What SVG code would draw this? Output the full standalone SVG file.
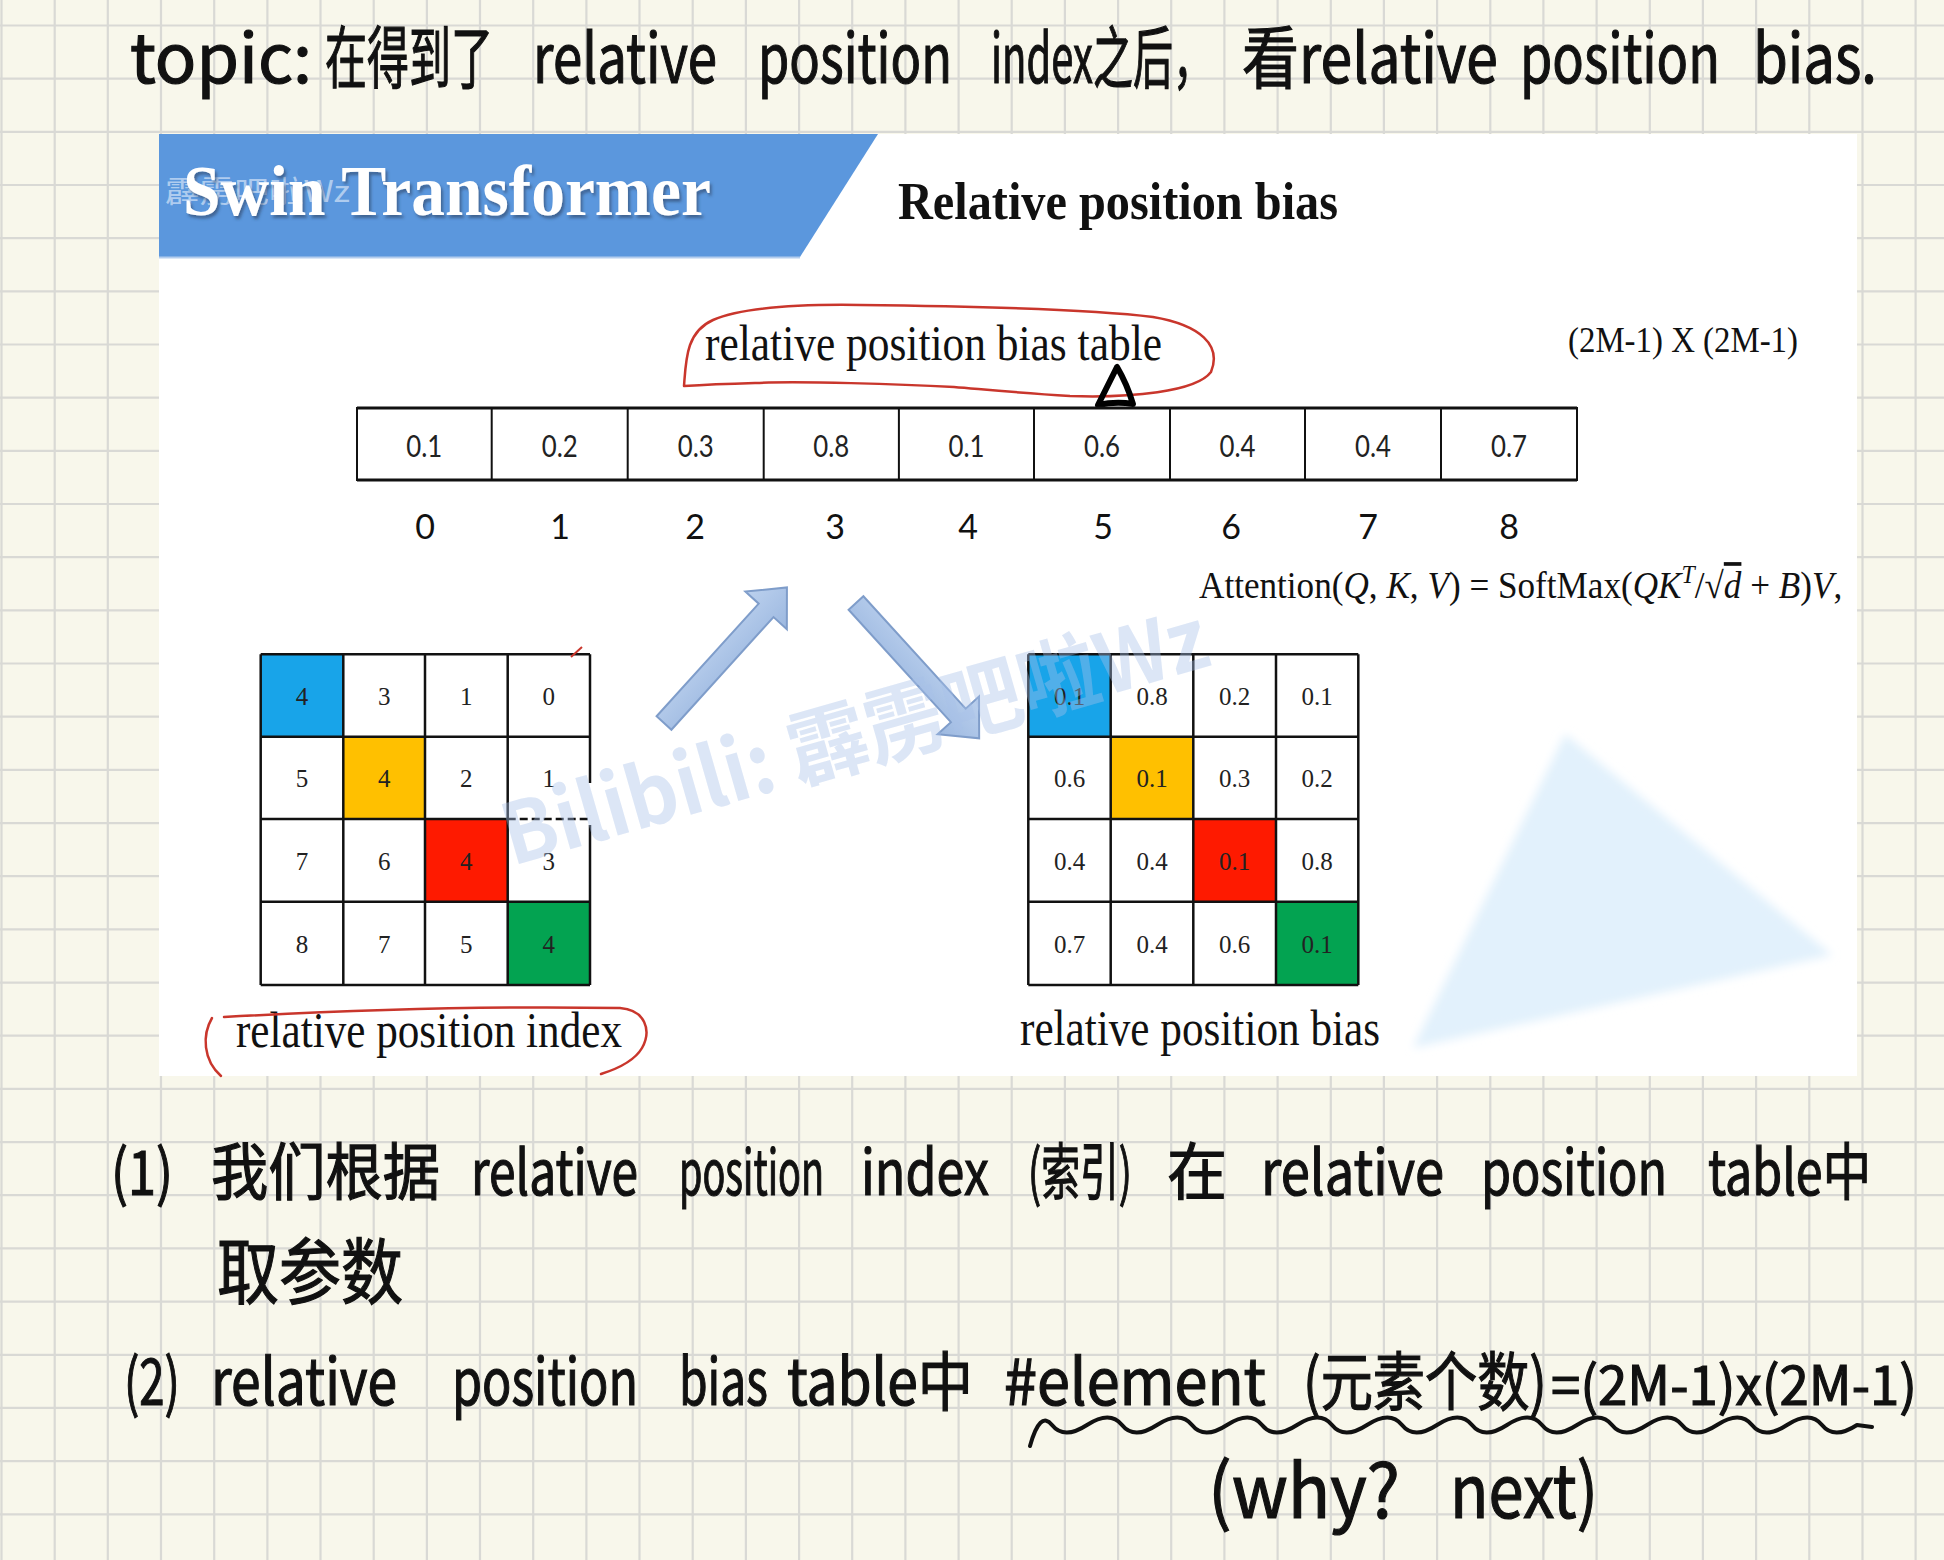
<svg xmlns="http://www.w3.org/2000/svg" width="1944" height="1560" viewBox="0 0 1944 1560">
<style>
.hw{font-family:"Noto Sans CJK SC","Noto Sans",sans-serif;fill:#111;stroke:#111;stroke-width:1.2}
.serif{font-family:"Liberation Serif","Times New Roman",serif;fill:#111}
.cellt{font-family:Lato,"Liberation Sans",sans-serif;font-size:30px;fill:#222;text-anchor:middle}
.idx{font-family:Lato,"Liberation Sans",sans-serif;font-size:34px;fill:#111;text-anchor:middle}
.gnum{font-family:"Liberation Serif","Times New Roman",serif;font-size:25px;fill:#222;text-anchor:middle}
.gl{stroke:#111;stroke-width:2.5;fill:none}
.red{stroke:#c9362c;stroke-width:2.5;fill:none;stroke-linecap:round}
.arr{fill:url(#ag);stroke:#7f9dca;stroke-width:2}
.it{font-style:italic}
</style>
<defs>
<linearGradient id="ag" x1="0" y1="0" x2="0" y2="1"><stop offset="0" stop-color="#bcd1ee"/><stop offset="1" stop-color="#9cb8e0"/></linearGradient>
<filter id="sh" x="-5%" y="-20%" width="110%" height="140%"><feDropShadow dx="2" dy="3" stdDeviation="1.5" flood-color="#2a3f60" flood-opacity="0.6"/></filter>
<filter id="bl" x="-10%" y="-10%" width="120%" height="120%"><feGaussianBlur stdDeviation="5"/></filter>
</defs>
<g id="paper">
<rect x="0" y="0" width="1944" height="1560" fill="#f8f7eb"/>
<path stroke="#d9d9d5" stroke-width="2.2" fill="none" d="M1.5,0V1560M54.7,0V1560M107.8,0V1560M161,0V1560M214.2,0V1560M267.4,0V1560M320.5,0V1560M373.7,0V1560M426.9,0V1560M480,0V1560M533.2,0V1560M586.4,0V1560M639.5,0V1560M692.7,0V1560M745.9,0V1560M799.1,0V1560M852.2,0V1560M905.4,0V1560M958.6,0V1560M1011.7,0V1560M1064.9,0V1560M1118.1,0V1560M1171.2,0V1560M1224.4,0V1560M1277.6,0V1560M1330.8,0V1560M1383.9,0V1560M1437.1,0V1560M1490.3,0V1560M1543.4,0V1560M1596.6,0V1560M1649.8,0V1560M1702.9,0V1560M1756.1,0V1560M1809.3,0V1560M1862.5,0V1560M1915.6,0V1560M0,25.5H1944M0,78.7H1944M0,131.8H1944M0,185H1944M0,238.2H1944M0,291.4H1944M0,344.5H1944M0,397.7H1944M0,450.9H1944M0,504H1944M0,557.2H1944M0,610.4H1944M0,663.5H1944M0,716.7H1944M0,769.9H1944M0,823.1H1944M0,876.2H1944M0,929.4H1944M0,982.6H1944M0,1035.7H1944M0,1088.9H1944M0,1142.1H1944M0,1195.2H1944M0,1248.4H1944M0,1301.6H1944M0,1354.8H1944M0,1407.9H1944M0,1461.1H1944M0,1514.3H1944"/>
</g>
<g id="slide">
<rect x="159" y="134" width="1698" height="942" fill="#ffffff"/>
<polygon points="1565,734 1832,955 1413,1048" fill="#e2f1fc" filter="url(#bl)"/>
<polygon points="159,134 878,134 800,257 159,257" fill="#5b97dd"/>
<line x1="159" y1="257.5" x2="800" y2="257.5" stroke="#b3cdee" stroke-width="2"/>
<text x="165" y="202" font-family="'Noto Sans CJK SC',sans-serif" font-size="30" fill="#d6e5f8" fill-opacity="0.7" textLength="185" lengthAdjust="spacingAndGlyphs">霹雳吧啦Wz</text>
<text class="serif" x="183" y="215" font-size="71" font-weight="bold" style="fill:#fff" filter="url(#sh)" textLength="528" lengthAdjust="spacingAndGlyphs">Swin Transformer</text>
<text class="serif" x="898" y="219" font-size="52" font-weight="bold" textLength="440" lengthAdjust="spacingAndGlyphs">Relative position bias</text>
<text class="serif" x="1568" y="352" font-size="36" textLength="230" lengthAdjust="spacingAndGlyphs">(2M-1) X (2M-1)</text>
<text class="serif" transform="translate(1199,598) scale(0.95,1)" font-size="37">Attention(<tspan class="it">Q</tspan>, <tspan class="it">K</tspan>, <tspan class="it">V</tspan>) = SoftMax(<tspan class="it">QK</tspan><tspan class="it" dy="-15" font-size="25">T</tspan><tspan dy="15">/√</tspan><tspan class="it" text-decoration="overline">d</tspan> + <tspan class="it">B</tspan>)<tspan class="it">V</tspan>,</text>
</g>
<g id="bias-table">
<text class="serif" x="705" y="360" font-size="50" textLength="457" lengthAdjust="spacingAndGlyphs">relative position bias table</text>
<path class="red" d="M684,386 C686,360 686,332 713,320 C740,308 790,304 860,305 C950,306 1080,308 1153,317 C1200,325 1222,345 1211,372 C1196,392 1130,398 1070,396 C1020,393 990,390 954,387 C900,384 800,381 755,383 C720,384 700,385 684,386"/>
<path d="M1117,367 L1098,405 Q1116,401 1133,404 Q1127,384 1117,367 Z" fill="none" stroke="#000" stroke-width="6" stroke-linejoin="round"/>
<rect x="357" y="408" width="1220" height="72" fill="#fff" stroke="#111" stroke-width="2"/>
<path stroke="#111" stroke-width="3" d="M357,408H1577M357,480H1577"/>
<path stroke="#111" stroke-width="2" d="M491.7,408V480M627.7,408V480M763.7,408V480M898.9,408V480M1034,408V480M1170,408V480M1305,408V480M1441,408V480"/>
<text class="cellt" y="457" textLength="36" lengthAdjust="spacingAndGlyphs" x="424.2">0.1</text>
<text class="cellt" y="457" textLength="36" lengthAdjust="spacingAndGlyphs" x="559.7">0.2</text>
<text class="cellt" y="457" textLength="36" lengthAdjust="spacingAndGlyphs" x="695.7">0.3</text>
<text class="cellt" y="457" textLength="36" lengthAdjust="spacingAndGlyphs" x="831.3">0.8</text>
<text class="cellt" y="457" textLength="36" lengthAdjust="spacingAndGlyphs" x="966.5">0.1</text>
<text class="cellt" y="457" textLength="36" lengthAdjust="spacingAndGlyphs" x="1102">0.6</text>
<text class="cellt" y="457" textLength="36" lengthAdjust="spacingAndGlyphs" x="1237.5">0.4</text>
<text class="cellt" y="457" textLength="36" lengthAdjust="spacingAndGlyphs" x="1373">0.4</text>
<text class="cellt" y="457" textLength="36" lengthAdjust="spacingAndGlyphs" x="1509">0.7</text>
<text class="idx" y="539" x="425">0</text>
<text class="idx" y="539" x="560">1</text>
<text class="idx" y="539" x="695">2</text>
<text class="idx" y="539" x="835">3</text>
<text class="idx" y="539" x="968">4</text>
<text class="idx" y="539" x="1103">5</text>
<text class="idx" y="539" x="1231">6</text>
<text class="idx" y="539" x="1368">7</text>
<text class="idx" y="539" x="1509">8</text>
</g>
<g id="index-grid">
<rect x="260.7" y="654.3" width="82.6" height="82.4" fill="#18a4e9"/>
<rect x="343.3" y="736.7" width="81.7" height="82.3" fill="#ffc000"/>
<rect x="425" y="819" width="82.7" height="82.7" fill="#fe1a00"/>
<rect x="507.7" y="901.7" width="82.3" height="83.3" fill="#03a351"/>
<path class="gl" d="M260.7,654.3H590M260.7,985H590M260.7,654.3V985M590,654.3V783M590,825V985M343.3,654.3V985M425,654.3V985M507.7,654.3V985M260.7,736.7H590M260.7,819H507.7M260.7,901.7H590"/>
<path class="gl" stroke-dasharray="8,4" d="M507.7,819H588"/>
<path d="M571,657 L582,647" stroke="#c9362c" stroke-width="2" fill="none"/>
<text class="gnum" x="302" y="704.5">4</text><text class="gnum" x="384.2" y="704.5">3</text><text class="gnum" x="466.3" y="704.5">1</text><text class="gnum" x="548.8" y="704.5">0</text>
<text class="gnum" x="302" y="787">5</text><text class="gnum" x="384.2" y="787">4</text><text class="gnum" x="466.3" y="787">2</text><text class="gnum" x="548.8" y="787">1</text>
<text class="gnum" x="302" y="869.5">7</text><text class="gnum" x="384.2" y="869.5">6</text><text class="gnum" x="466.3" y="869.5">4</text><text class="gnum" x="548.8" y="869.5">3</text>
<text class="gnum" x="302" y="952.5">8</text><text class="gnum" x="384.2" y="952.5">7</text><text class="gnum" x="466.3" y="952.5">5</text><text class="gnum" x="548.8" y="952.5">4</text>
<text class="serif" x="236" y="1047" font-size="50" textLength="386" lengthAdjust="spacingAndGlyphs">relative position index</text>
<path class="red" d="M212,1018 C202,1035 203,1060 221,1076"/>
<path class="red" d="M224,1017 C350,1010 500,1006 620,1008 C645,1010 652,1030 642,1048 C635,1060 620,1068 601,1074"/>
</g>
<g id="bias-grid">
<rect x="1028.3" y="654.3" width="82.4" height="82.4" fill="#18a4e9"/>
<rect x="1110.7" y="736.7" width="82.6" height="82.3" fill="#ffc000"/>
<rect x="1193.3" y="819" width="82.7" height="82.7" fill="#fe1a00"/>
<rect x="1276" y="901.7" width="82.3" height="83.3" fill="#03a351"/>
<path class="gl" d="M1028.3,654.3H1358.3M1028.3,985H1358.3M1028.3,654.3V985M1358.3,654.3V985M1110.7,654.3V985M1193.3,654.3V985M1276,654.3V985M1028.3,736.7H1358.3M1028.3,819H1358.3M1028.3,901.7H1358.3"/>
<text class="gnum" x="1069.5" y="704.5">0.1</text><text class="gnum" x="1152" y="704.5">0.8</text><text class="gnum" x="1234.7" y="704.5">0.2</text><text class="gnum" x="1317.2" y="704.5">0.1</text>
<text class="gnum" x="1069.5" y="787">0.6</text><text class="gnum" x="1152" y="787">0.1</text><text class="gnum" x="1234.7" y="787">0.3</text><text class="gnum" x="1317.2" y="787">0.2</text>
<text class="gnum" x="1069.5" y="869.5">0.4</text><text class="gnum" x="1152" y="869.5">0.4</text><text class="gnum" x="1234.7" y="869.5">0.1</text><text class="gnum" x="1317.2" y="869.5">0.8</text>
<text class="gnum" x="1069.5" y="952.5">0.7</text><text class="gnum" x="1152" y="952.5">0.4</text><text class="gnum" x="1234.7" y="952.5">0.6</text><text class="gnum" x="1317.2" y="952.5">0.1</text>
<text class="serif" x="1020" y="1045" font-size="50" textLength="360" lengthAdjust="spacingAndGlyphs">relative position bias</text>
</g>
<g id="connectors">
<polygon class="arr" transform="translate(664,723) rotate(-47.8)" points="0,-10 152,-10 152,-28 183,0 152,28 152,10 0,10"/>
<polygon class="arr" transform="translate(856,603) rotate(47.7)" points="0,-10 152,-10 152,-28 183,0 152,28 152,10 0,10"/>
</g>
<g id="watermark">
<text transform="translate(512,866) rotate(-16)" font-family="'Noto Sans CJK SC','Noto Sans',sans-serif" font-size="84" font-weight="bold" fill="#a7c1e8" fill-opacity="0.4" textLength="730" lengthAdjust="spacingAndGlyphs">Bilibili: 霹雳吧啦Wz</text>
</g>
<g id="notes">
<text class="hw" y="83" font-size="68" x="130" textLength="182" lengthAdjust="spacingAndGlyphs">topic:</text>
<text class="hw" y="83" font-size="68" x="325" textLength="168" lengthAdjust="spacingAndGlyphs">在得到了</text>
<text class="hw" y="83" font-size="68" x="533" textLength="184" lengthAdjust="spacingAndGlyphs">relative</text>
<text class="hw" y="83" font-size="68" x="758" textLength="194" lengthAdjust="spacingAndGlyphs">position</text>
<text class="hw" y="83" font-size="68" x="991" textLength="222" lengthAdjust="spacingAndGlyphs">index之后，</text>
<text class="hw" y="83" font-size="68" x="1242" textLength="256" lengthAdjust="spacingAndGlyphs">看relative</text>
<text class="hw" y="83" font-size="68" x="1520" textLength="200" lengthAdjust="spacingAndGlyphs">position</text>
<text class="hw" y="83" font-size="68" x="1753" textLength="124" lengthAdjust="spacingAndGlyphs">bias.</text>
<text class="hw" y="1195" font-size="62" x="111" textLength="62" lengthAdjust="spacingAndGlyphs">(1)</text>
<text class="hw" y="1195" font-size="62" x="211" textLength="229" lengthAdjust="spacingAndGlyphs">我们根据</text>
<text class="hw" y="1195" font-size="62" x="471" textLength="167" lengthAdjust="spacingAndGlyphs">relative</text>
<text class="hw" y="1195" font-size="62" x="679" textLength="145" lengthAdjust="spacingAndGlyphs">position</text>
<text class="hw" y="1195" font-size="62" x="861" textLength="128" lengthAdjust="spacingAndGlyphs">index</text>
<text class="hw" y="1195" font-size="62" x="1028" textLength="104" lengthAdjust="spacingAndGlyphs">(索引)</text>
<text class="hw" y="1195" font-size="62" x="1167" textLength="60" lengthAdjust="spacingAndGlyphs">在</text>
<text class="hw" y="1195" font-size="62" x="1261" textLength="183" lengthAdjust="spacingAndGlyphs">relative</text>
<text class="hw" y="1195" font-size="62" x="1481" textLength="186" lengthAdjust="spacingAndGlyphs">position</text>
<text class="hw" y="1195" font-size="62" x="1708" textLength="163" lengthAdjust="spacingAndGlyphs">table中</text>
<text class="hw" y="1298" font-size="72" x="217" textLength="186" lengthAdjust="spacingAndGlyphs">取参数</text>
<text class="hw" y="1405" font-size="64" x="124" textLength="56" lengthAdjust="spacingAndGlyphs">(2)</text>
<text class="hw" y="1405" font-size="64" x="211" textLength="186" lengthAdjust="spacingAndGlyphs">relative</text>
<text class="hw" y="1405" font-size="64" x="452" textLength="186" lengthAdjust="spacingAndGlyphs">position</text>
<text class="hw" y="1405" font-size="64" x="679" textLength="89" lengthAdjust="spacingAndGlyphs">bias</text>
<text class="hw" y="1405" font-size="64" x="787" textLength="186" lengthAdjust="spacingAndGlyphs">table中</text>
<text class="hw" y="1405" font-size="64" x="1004" textLength="262" lengthAdjust="spacingAndGlyphs">#element</text>
<text class="hw" y="1405" font-size="64" x="1303" textLength="244" lengthAdjust="spacingAndGlyphs">(元素个数)</text>
<text class="hw" y="1405" font-size="54" x="1551" textLength="366" lengthAdjust="spacingAndGlyphs">=(2M-1)x(2M-1)</text>
<path d="M1030,1446 Q1040,1410 1052,1425 T1087,1425 T1122,1425 T1157,1425 T1192,1425 T1227,1425 T1262,1425 T1297,1425 T1332,1425 T1367,1425 T1402,1425 T1437,1425 T1472,1425 T1507,1425 T1542,1425 T1577,1425 T1612,1425 T1647,1425 T1682,1425 T1717,1425 T1752,1425 T1787,1425 T1822,1425 T1857,1425 L1872,1427" fill="none" stroke="#111" stroke-width="4" stroke-linecap="round" stroke-linejoin="round"/>
<text class="hw" y="1518" font-size="74" x="1208" textLength="192" lengthAdjust="spacingAndGlyphs">(why?</text>
<text class="hw" y="1518" font-size="74" x="1450" textLength="148" lengthAdjust="spacingAndGlyphs">next)</text>
</g>
</svg>
